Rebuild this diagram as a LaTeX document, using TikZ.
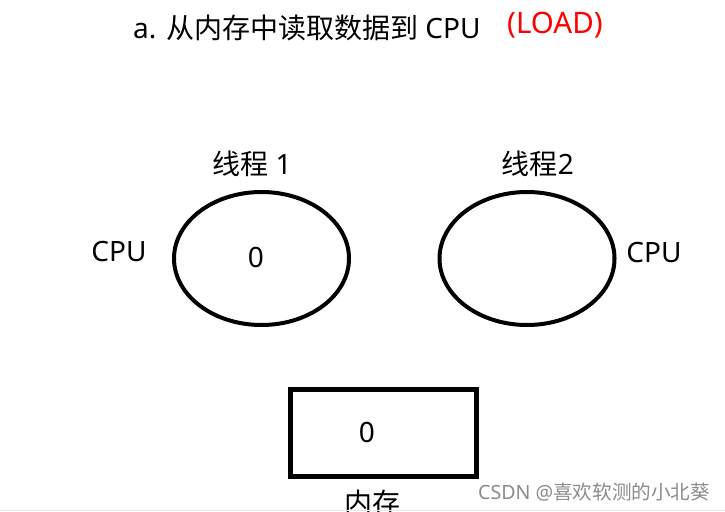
\documentclass[tikz,border=0pt]{standalone}
\usepackage{fontspec}
\setmainfont{Noto Sans}
\newfontfamily\cjk{Noto Sans CJK SC}
\usetikzlibrary{shapes.geometric}
\tikzset{
  lbl/.style={inner sep=0pt, font=\fontsize{28}{32}\selectfont},
  cpu/.style={ellipse, draw, line width=4pt, minimum width=175pt, minimum height=133pt, inner sep=0pt},
  mem/.style={rectangle, draw, line width=5pt, minimum width=186pt, minimum height=87pt, inner sep=0pt},
  wm/.style={inner sep=0pt, text=black!45, font=\fontsize{19.6}{22}\selectfont}
}
\begin{document}
\begin{tikzpicture}[x=1pt,y=-1pt]
\useasboundingbox (0,0) rectangle (725,511);
\clip (0,0) rectangle (725,511);
\fill[white] (0,0) rectangle (725,511);
\node[lbl, anchor=west] (title) at (133,28) {a. {\cjk 从内存中读取数据到} CPU};
\node[lbl, anchor=west, text=red, font=\fontsize{29.5}{32}\selectfont] (load) at (507,25) {(LOAD)};
\node[lbl] (t1) at (252,163.5) {{\cjk 线程} 1};
\node[lbl] (t2) at (538,163.5) {{\cjk 线程}2};
\node[cpu] (e1) at (261.5,258.5) {};
\node[cpu] (e2) at (527,258.5) {};
\node[lbl] (v1) at (256,257) {0};
\node[lbl] (c1) at (119,252) {CPU};
\node[lbl] (c2) at (654,253) {CPU};
\node[mem] (m) at (383,432.5) {};
\node[lbl] (v2) at (367,432) {0};
\node[lbl] (ml) at (372,503) {\cjk 内存};
\node[wm, anchor=west] (w) at (478,492) {CSDN @{\cjk 喜欢软测的小北葵}};
\draw[black!8, line width=1pt] (0,510) -- (725,510);
\end{tikzpicture}
\end{document}
